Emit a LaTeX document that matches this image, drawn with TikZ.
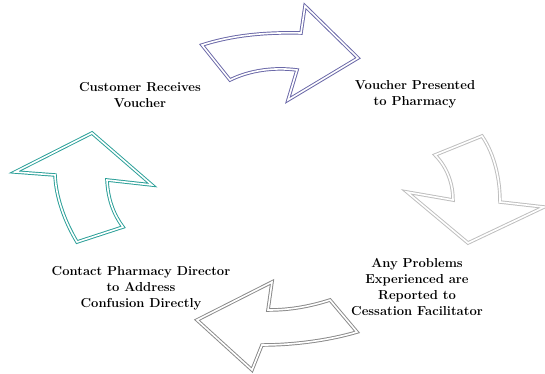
\documentclass[tikz,border=0pt]{standalone}
\usepackage{xcolor}
\usepackage{tikz}
\definecolor{purp}{HTML}{6A68A8}
\definecolor{teal}{HTML}{2A9F98}
\definecolor{lgray}{HTML}{BEBEBE}
\definecolor{dgray}{HTML}{8A8A8A}
\tikzset{
  arr/.style={line width=0.95pt, double=white, double distance=1.6pt, line join=miter},
  lab/.style={align=center, font=\fontsize{13}{15.8}\selectfont\bfseries, inner sep=0pt}
}

\begin{document}
\begin{tikzpicture}[x=1pt, y=-1pt]
  \useasboundingbox (0,0) rectangle (545,373);

  % top arrow
  \draw[arr, draw=purp] (202,45) .. controls (230,36) and (262,32) .. (301,33)
    -- (305,6) -- (358,58) -- (288,100) -- (297,70)
    .. controls (275,67) and (250,70) .. (230,80) -- cycle;

  % right arrow
  \draw[arr, draw=lgray] (482,136) -- (435,155)
    .. controls (448,168) and (453,185) .. (453,200)
    -- (407,192) -- (468,243) -- (544,207) -- (500,202)
    .. controls (500,180) and (495,155) .. (482,136) -- cycle;

  % bottom arrow
  \draw[arr, draw=dgray] (272,282) -- (197,320) -- (252,370) -- (262,345)
    .. controls (295,345) and (330,340) .. (357,332) -- (330,300)
    .. controls (305,308) and (285,310) .. (268,310) -- cycle;

  % left arrow
  \draw[arr, draw=teal] (92,133) -- (152,185) -- (107,180)
    .. controls (108,200) and (114,215) .. (123,227) -- (77,242)
    .. controls (65,222) and (56,198) .. (55,175) -- (15,172) -- cycle;

  \node[lab] (receive) at (140,95) {Customer Receives\\Voucher};
  \node[lab] (present) at (415,94) {Voucher Presented\\to Pharmacy};
  \node[lab] (report) at (417,287) {Any Problems\\Experienced are\\Reported to\\Cessation Facilitator};
  \node[lab] (contact) at (141,288) {Contact Pharmacy Director\\to Address\\Confusion Directly};
\end{tikzpicture}
\end{document}
